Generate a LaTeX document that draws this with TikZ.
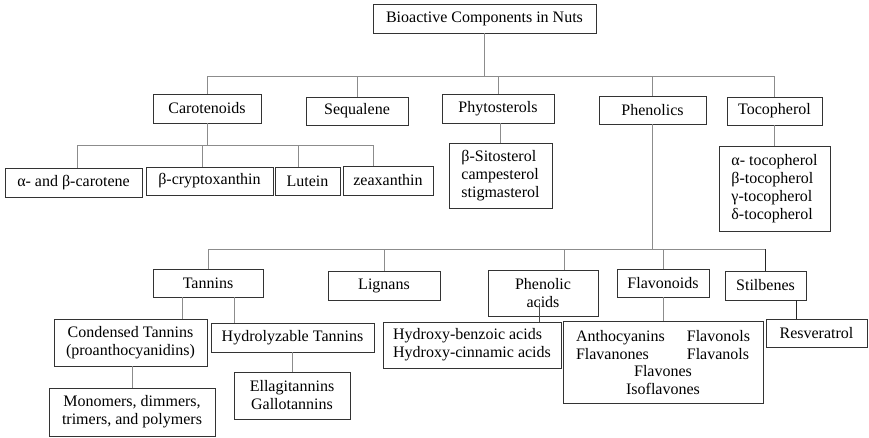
\documentclass[tikz,border=0pt]{standalone}
\usepackage{fontspec}
\setmainfont{Liberation Serif}
\newcommand\mybox[7][center]{\node[box,align=#1,minimum width={#5pt-#3pt},minimum height={#6pt-#4pt}] (#2) at ({(#3+#5)/2},{(#4+#6)/2}) {#7};}
\begin{document}
\begin{tikzpicture}[x=1pt,y=-1pt,
 box/.style={draw=black!80,line width=0.9pt,inner sep=0pt,font=\fontsize{16}{18}\selectfont},
 conn/.style={draw=black!45,line width=0.9pt}]
\useasboundingbox (0,0) rectangle (869,437);
\mybox{root}{373}{4}{596}{33}{Bioactive Components in Nuts}
\mybox{car}{153}{94}{261}{123}{Carotenoids}
\mybox{seq}{306}{97}{408}{125}{Sequalene}
\mybox{phy}{442}{94}{554}{123}{Phytosterols}
\mybox{phe}{599}{96}{706}{124}{Phenolics}
\mybox{toc}{727}{97}{822}{125}{Tocopherol}
\mybox{ab}{5}{168}{142}{197}{α- and β-carotene}
\mybox{bc}{146}{167}{273}{195}{β-cryptoxanthin}
\mybox{lut}{275}{167}{340}{195}{Lutein}
\mybox{zea}{343}{166}{433}{195}{zeaxanthin}
\mybox[left]{sit}{449}{143}{552}{208}{β-Sitosterol\\campesterol\\stigmasterol}
\mybox[left]{toch}{719}{146}{830}{231}{α- tocopherol\\β-tocopherol\\γ-tocopherol\\δ-tocopherol}
\mybox{tan}{153}{269}{263}{297}{Tannins}
\mybox{lig}{328}{271}{440}{300}{Lignans}
\mybox{pa}{488}{270}{598}{316}{Phenolic\\acids}
\mybox{flv}{617}{269}{709}{297}{Flavonoids}
\mybox{sti}{725}{271}{806}{300}{Stilbenes}
\mybox{cond}{54}{319}{207}{366}{Condensed Tannins\\(proanthocyanidins)}
\mybox{hyd}{211}{323}{374}{352}{Hydrolyzable Tannins}
\mybox{mono}{49}{388}{215}{436}{Monomers, dimmers,\\trimers, and polymers}
\mybox{ella}{234}{372}{350}{419}{Ellagitannins\\Gallotannins}
\mybox[left]{hyx}{383}{322}{561}{368}{Hydroxy-benzoic acids\\Hydroxy-cinnamic acids}
\mybox{fls}{563}{321}{763}{403}{\begin{tabular}{@{}l@{\hspace{22pt}}l@{}}Anthocyanins&Flavonols\\Flavanones&Flavanols\end{tabular}\\Flavones\\Isoflavones}
\mybox{res}{766}{319}{867}{347}{Resveratrol}
% buses
\coordinate (bus1) at (0,76);
\coordinate (bus2) at (0,145);
\coordinate (bus3) at (0,249);
\draw[conn] (root.south) -- (root.south |- bus1);
\draw[conn] (car.north) -- (car.north |- bus1) -- (toc.north |- bus1) -- (toc.north);
\draw[conn] (seq.north) -- (seq.north |- bus1);
\draw[conn] (phy.north) -- (phy.north |- bus1);
\draw[conn] (phe.north) -- (phe.north |- bus1);
% carotenoids
\path ([xshift=3.5pt]ab.north) coordinate (k1) ([xshift=-7.5pt]bc.north) coordinate (k2)
      ([xshift=-9.5pt]lut.north) coordinate (k3) ([xshift=-15pt]zea.north) coordinate (k4);
\draw[conn] (car.south) -- (car.south |- bus2);
\draw[conn] (k1) -- (k1 |- bus2) -- (k4 |- bus2) -- (k4);
\draw[conn] (k2) -- (k2 |- bus2);
\draw[conn] (k3) -- (k3 |- bus2);
% phytosterols, tocopherol
\draw[conn] (sit.north) -- (sit.north |- phy.south);
\draw[conn] (toch.north) -- (toch.north |- toc.south);
% phenolics
\path ([xshift=21pt]pa.north) coordinate (pn);
\draw[conn] (phe.south) -- (phe.south |- bus3);
\draw[conn] (tan.north) -- (tan.north |- bus3) -- (sti.north |- bus3);
\draw[conn,draw=black!85] (sti.north |- bus3) -- (sti.north);
\draw[conn] (lig.north) -- (lig.north |- bus3);
\draw[conn] (pn) -- (pn |- bus3);
\draw[conn] (flv.north) -- (flv.north |- bus3);
% tannins
\path ([xshift=-26pt]tan.south) coordinate (t1) ([xshift=26pt]tan.south) coordinate (t2);
\draw[conn] (t1) -- (t1 |- cond.north);
\draw[conn] (t2) -- (t2 |- hyd.north);
\draw[conn] (mono.north) -- (mono.north |- cond.south);
\draw[conn] (ella.north) -- (ella.north |- hyd.south);
% phenolic acids, flavonoids, stilbenes
\path ([xshift=-4pt,yshift=13pt]pa.south) coordinate (p1);
\draw[conn,draw=black!70] (p1) -- (p1 |- hyx.north);
\draw[conn] (flv.south) -- (flv.south |- fls.north);
\path ([xshift=31pt]sti.south) coordinate (s1);
\draw[conn,draw=black!85] (s1) -- (s1 |- res.north);
\end{tikzpicture}
\end{document}
